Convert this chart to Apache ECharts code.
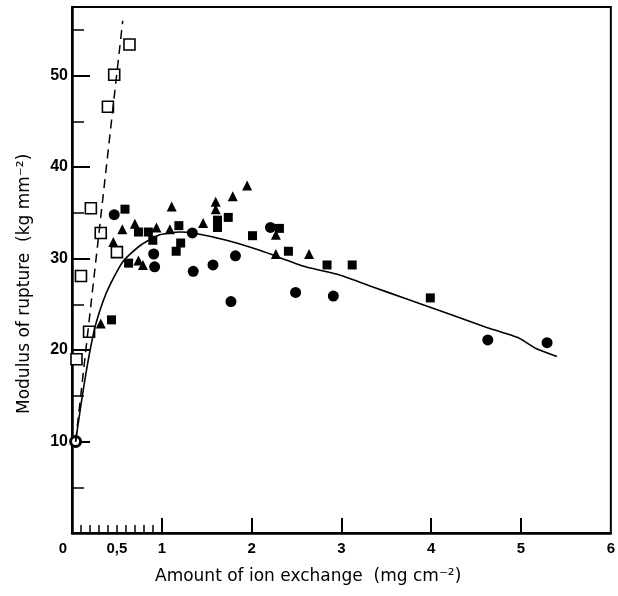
<!doctype html>
<html>
<head>
<meta charset="utf-8">
<title>Modulus of rupture</title>
<script src="https://cdn.jsdelivr.net/npm/echarts@6/dist/echarts.min.js"></script>
<style>
  html, body { margin: 0; padding: 0; background: #fff; }
  #chart { width: 618px; height: 596px; }
</style>
</head>
<body>
<div id="chart"></div>
<script>
// open squares (steep dashed series)
var openSquares = [[0.05, 19.0], [0.10, 28.1], [0.19, 22.0], [0.21, 35.5], [0.32, 32.8],
  [0.40, 46.6], [0.47, 50.1], [0.50, 30.7], [0.64, 53.4]];
var dashedLine = [[0.04, 10], [0.565, 56]];
var circles = [[0.47, 34.8], [0.91, 30.5], [0.92, 29.1], [1.34, 32.8], [1.35, 28.6],
  [1.57, 29.3], [1.82, 30.3], [1.77, 25.3], [2.21, 33.4], [2.49, 26.3], [2.91, 25.9],
  [4.63, 21.1], [5.29, 20.8]];
var squares = [[0.44, 23.3], [0.59, 35.4], [0.63, 29.5], [0.74, 32.9], [0.85, 32.9],
  [0.90, 32.0], [1.16, 30.8], [1.19, 33.6], [1.21, 31.7], [1.62, 34.2], [1.62, 33.4],
  [1.74, 34.5], [2.01, 32.5], [2.31, 33.3], [2.41, 30.8], [2.84, 29.3], [3.12, 29.3],
  [3.99, 25.7]];
var triangles = [[0.32, 22.9], [0.46, 31.8], [0.56, 33.2], [0.70, 33.8], [0.74, 29.8],
  [0.79, 29.3], [0.94, 33.4], [1.09, 33.2], [1.11, 35.7], [1.46, 33.9], [1.60, 36.2],
  [1.60, 35.4], [1.79, 36.8], [1.95, 38.0], [2.27, 32.6], [2.27, 30.5], [2.64, 30.5]];
var curve = [[0.04, 10], [0.107, 14.5], [0.181, 18.9], [0.256, 22.5], [0.348, 25.4],
  [0.422, 27.1], [0.57, 29.7], [0.756, 31.4], [0.978, 32.6], [1.2, 32.9], [1.35, 32.8],
  [1.72, 32.0], [2.09, 30.9], [2.6, 29.1], [2.98, 28.2], [3.35, 26.9], [3.72, 25.6],
  [4.24, 23.8], [4.61, 22.5], [4.98, 21.3], [5.16, 20.2], [5.40, 19.3]];
var origin = [[0.04, 10]];

var xLabels = [0, 0.5, 1, 2, 3, 4, 5, 6];
var xMajorTicks = [1, 2, 3, 4, 5];
var xMinorTicks = [0.1, 0.2, 0.3, 0.4, 0.5, 0.6, 0.7, 0.8, 0.9];
var yLabels = [10, 20, 30, 40, 50];
var yMinorTicks = [5, 15, 25, 35, 45, 55];

var chart = echarts.init(document.getElementById('chart'));
var labelFont = { color: '#000', fontSize: 15, fontWeight: 'bold', fontFamily: 'Liberation Sans' };

chart.setOption({
  animation: false,
  grid: { left: 72, right: 6, top: 7, bottom: 63, show: true, borderColor: '#000', borderWidth: 2 },
  xAxis: [{
    type: 'value', min: 0, max: 6,
    axisLine: { show: true, onZero: false, lineStyle: { color: '#000', width: 2.5 } },
    axisTick: { show: true, inside: true, length: 15, customValues: xMajorTicks, lineStyle: { color: '#000', width: 2 } },
    axisLabel: Object.assign({
      margin: 8,
      customValues: xLabels,
      formatter: function (v) {
        if (v === 0) return '{z|0}';
        if (v === 0.5) return '0,5';
        return String(v);
      },
      rich: { z: { padding: [0, 18, 0, 0], fontSize: 15, fontWeight: 'bold', fontFamily: 'Liberation Sans' } }
    }, labelFont),
    splitLine: { show: false }
  }, {
    type: 'value', min: 0, max: 6, position: 'bottom',
    axisLine: { show: false },
    axisTick: { show: true, inside: true, length: 8, customValues: xMinorTicks, lineStyle: { color: '#000', width: 1.5 } },
    axisLabel: { show: false },
    splitLine: { show: false }
  }],
  yAxis: [{
    type: 'value', min: 0, max: 57.5,
    axisLine: { show: true, onZero: false, lineStyle: { color: '#000', width: 2.5 } },
    axisTick: { show: true, inside: true, length: 18, customValues: yLabels, lineStyle: { color: '#000', width: 2 } },
    axisLabel: Object.assign({ margin: 4, customValues: yLabels }, labelFont, { fontSize: 16 }),
    splitLine: { show: false }
  }, {
    type: 'value', min: 0, max: 57.5, position: 'left',
    axisLine: { show: false },
    axisTick: { show: true, inside: true, length: 12, customValues: yMinorTicks, lineStyle: { color: '#000', width: 1.5 } },
    axisLabel: { show: false },
    splitLine: { show: false }
  }],
  graphic: [{
    type: 'text', left: 155, top: 568,
    style: { text: 'Amount of ion exchange  (mg cm⁻²)', fontSize: 17, fontFamily: 'DejaVu Sans', fill: '#000' }
  }, {
    type: 'text', x: 16, y: 414, rotation: Math.PI / 2,
    style: { text: 'Modulus of rupture  (kg mm⁻²)', fontSize: 17, fontFamily: 'DejaVu Sans', fill: '#000' }
  }],
  series: [{
    type: 'line', data: dashedLine, symbol: 'none', silent: true,
    lineStyle: { color: '#000', width: 1.5, type: [9, 6] }
  }, {
    type: 'line', data: curve, symbol: 'none', smooth: 0.2, silent: true,
    lineStyle: { color: '#000', width: 1.6 }
  }, {
    type: 'scatter', data: openSquares, symbol: 'rect', symbolSize: 11,
    itemStyle: { color: '#fff', borderColor: '#000', borderWidth: 1.6, opacity: 1 }
  }, {
    type: 'scatter', data: circles, symbol: 'circle', symbolSize: 11,
    itemStyle: { color: '#000', opacity: 1 }
  }, {
    type: 'scatter', data: squares, symbol: 'rect', symbolSize: 9,
    itemStyle: { color: '#000', opacity: 1 }
  }, {
    type: 'scatter', data: triangles, symbol: 'triangle', symbolSize: 10,
    itemStyle: { color: '#000', opacity: 1 }
  }, {
    type: 'scatter', data: origin, symbol: 'circle', symbolSize: 10,
    itemStyle: { color: '#fff', borderColor: '#000', borderWidth: 3, opacity: 1 }
  }]
});
</script>
</body>
</html>
